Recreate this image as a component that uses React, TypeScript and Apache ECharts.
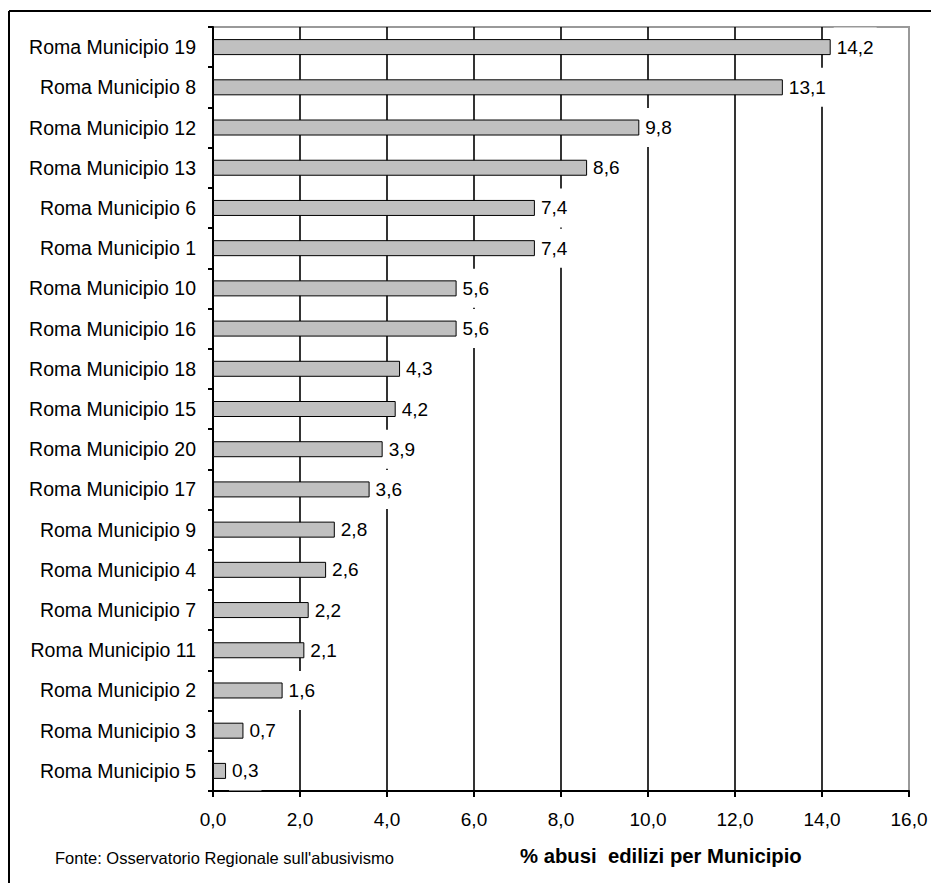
import React, { useEffect, useRef } from 'react';
import * as echarts from 'echarts';

const categories = [
  'Roma Municipio 19', 'Roma Municipio 8', 'Roma Municipio 12', 'Roma Municipio 13',
  'Roma Municipio 6', 'Roma Municipio 1', 'Roma Municipio 10', 'Roma Municipio 16',
  'Roma Municipio 18', 'Roma Municipio 15', 'Roma Municipio 20', 'Roma Municipio 17',
  'Roma Municipio 9', 'Roma Municipio 4', 'Roma Municipio 7', 'Roma Municipio 11',
  'Roma Municipio 2', 'Roma Municipio 3', 'Roma Municipio 5',
];
const values = [14.2, 13.1, 9.8, 8.6, 7.4, 7.4, 5.6, 5.6, 4.3, 4.2, 3.9, 3.6, 2.8, 2.6, 2.2, 2.1, 1.6, 0.7, 0.3];
const axisMin = 0;
const axisMax = 16;
const axisStep = 2;
const sourceText = "Fonte: Osservatorio Regionale sull'abusivismo";
const axisTitle = '% abusi  edilizi per Municipio';

const FONT = '"Liberation Sans", Arial, sans-serif';
const fmt = (v: number) => v.toFixed(1).replace('.', ',');

export default function App() {
  const ref = useRef<HTMLDivElement>(null);
  useEffect(() => {
    const chart = echarts.init(ref.current!, null, { renderer: 'svg' });
    chart.setOption({
      animation: false,
      backgroundColor: '#ffffff',
      textStyle: { fontFamily: FONT },
      grid: {
        left: 213, top: 27, right: 22, bottom: 92,
        show: true, borderColor: '#999999', borderWidth: 2, backgroundColor: 'transparent',
        outerBoundsMode: 'none',
      },
      xAxis: {
        type: 'value', min: axisMin, max: axisMax, interval: axisStep,
        axisLine: { show: true, lineStyle: { color: '#000', width: 2 } },
        axisTick: { show: true, length: 6, lineStyle: { color: '#000', width: 2 } },
        axisLabel: { formatter: (v: number) => fmt(v), color: '#000', fontSize: 19, fontFamily: FONT, margin: 19 },
        splitLine: { show: true, showMaxLine: false, lineStyle: { color: '#000', width: 1.6 } },
      },
      yAxis: {
        type: 'category', data: categories, inverse: true,
        axisLine: { show: true, lineStyle: { color: '#000', width: 2 } },
        axisTick: { show: true, length: 5, interval: 0, lineStyle: { color: '#000', width: 2 } },
        axisLabel: { color: '#000', fontSize: 19.5, fontFamily: FONT, margin: 17, interval: 0 },
        splitLine: { show: false },
      },
      series: [{
        type: 'bar', data: values, barWidth: 16,
        itemStyle: { color: '#c0c0c0', borderColor: '#000', borderWidth: 1 },
        label: {
          show: true, position: 'right', distance: 3,
          formatter: (p: any) => fmt(p.value),
          color: '#000', fontSize: 19, fontFamily: FONT,
          backgroundColor: '#fff', padding: [10, 3, 10, 3],
        },
      }],
      graphic: [
        { type: 'line', shape: { x1: 9, y1: 11, x2: 931, y2: 11 }, style: { stroke: '#000', lineWidth: 2 } },
        { type: 'line', shape: { x1: 9, y1: 11, x2: 9, y2: 883 }, style: { stroke: '#000', lineWidth: 2 } },
        { type: 'text', left: 55, top: 849, style: { text: sourceText, fill: '#000', font: `16.5px ${FONT}` } },
        { type: 'text', left: 520, top: 846, style: { text: axisTitle, fill: '#000', font: `bold 20.3px ${FONT}` } },
      ],
    });
    return () => chart.dispose();
  }, []);
  return <div ref={ref} style={{ position: 'absolute', left: 0, top: 0, width: 931, height: 883, background: '#fff' }} />;
}
